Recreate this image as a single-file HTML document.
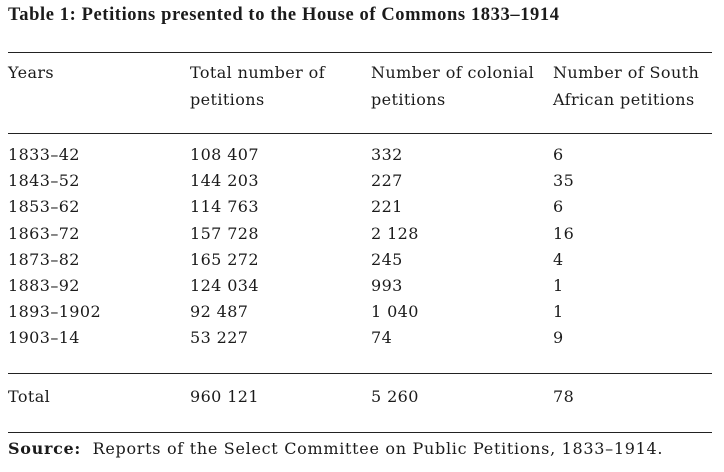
<!DOCTYPE html>
<html><head><meta charset="utf-8"><style>
body{margin:0;width:724px;height:472px;background:#fff;position:relative;overflow:hidden;font-family:"DejaVu Serif","Liberation Serif",serif;color:#1b1b1b}
.t{position:absolute;font-size:16px;letter-spacing:0.4px;line-height:20px;white-space:nowrap}
.rule{position:absolute;left:8px;width:704px;height:1px;background:#222}
.title{position:absolute;left:8px;top:5px;font-weight:bold;font-size:18.5px;letter-spacing:0.6px;font-family:"Liberation Serif",serif}
</style></head><body>
<div class="title">Table 1: Petitions presented to the House of Commons 1833–1914</div>
<div class="rule" style="top:52px"></div>
<div class="t" style="left:8px;top:59px;line-height:27px">Years</div>
<div class="t" style="left:190px;top:59px;line-height:27px">Total number of<br>petitions</div>
<div class="t" style="left:371px;top:59px;line-height:27px">Number of colonial<br>petitions</div>
<div class="t" style="left:553px;top:59px;line-height:27px">Number of South<br>African petitions</div>
<div class="rule" style="top:133px"></div>
<div id="rows"></div>
<div class="rule" style="top:373px"></div>
<div class="t" style="left:8px;top:387px">Total</div>
<div class="t" style="left:190px;top:387px">960 121</div>
<div class="t" style="left:371px;top:387px">5 260</div>
<div class="t" style="left:553px;top:387px">78</div>
<div class="rule" style="top:432px"></div>
<div class="t" style="left:8px;top:439px;letter-spacing:0.7px"><b>Source:</b>&nbsp; Reports of the Select Committee on Public Petitions, 1833–1914.</div>
<script>
const years=["1833–42","1843–52","1853–62","1863–72","1873–82","1883–92","1893–1902","1903–14"];
const totals=["108 407","144 203","114 763","157 728","165 272","124 034","92 487","53 227"];
const colonial=["332","227","221","2 128","245","993","1 040","74"];
const southAfrican=["6","35","6","16","4","1","1","9"];
const cont=document.getElementById('rows');
const cols=[8,190,371,553];
years.forEach((y,i)=>{
  const vals=[y,totals[i],colonial[i],southAfrican[i]];
  vals.forEach((v,j)=>{
    const d=document.createElement('div');
    d.className='t';
    d.style.left=cols[j]+'px';
    d.style.top=(145+i*26.2)+'px';
    d.textContent=v;
    
    
    cont.appendChild(d);
  });
});
</script>
</body></html>
